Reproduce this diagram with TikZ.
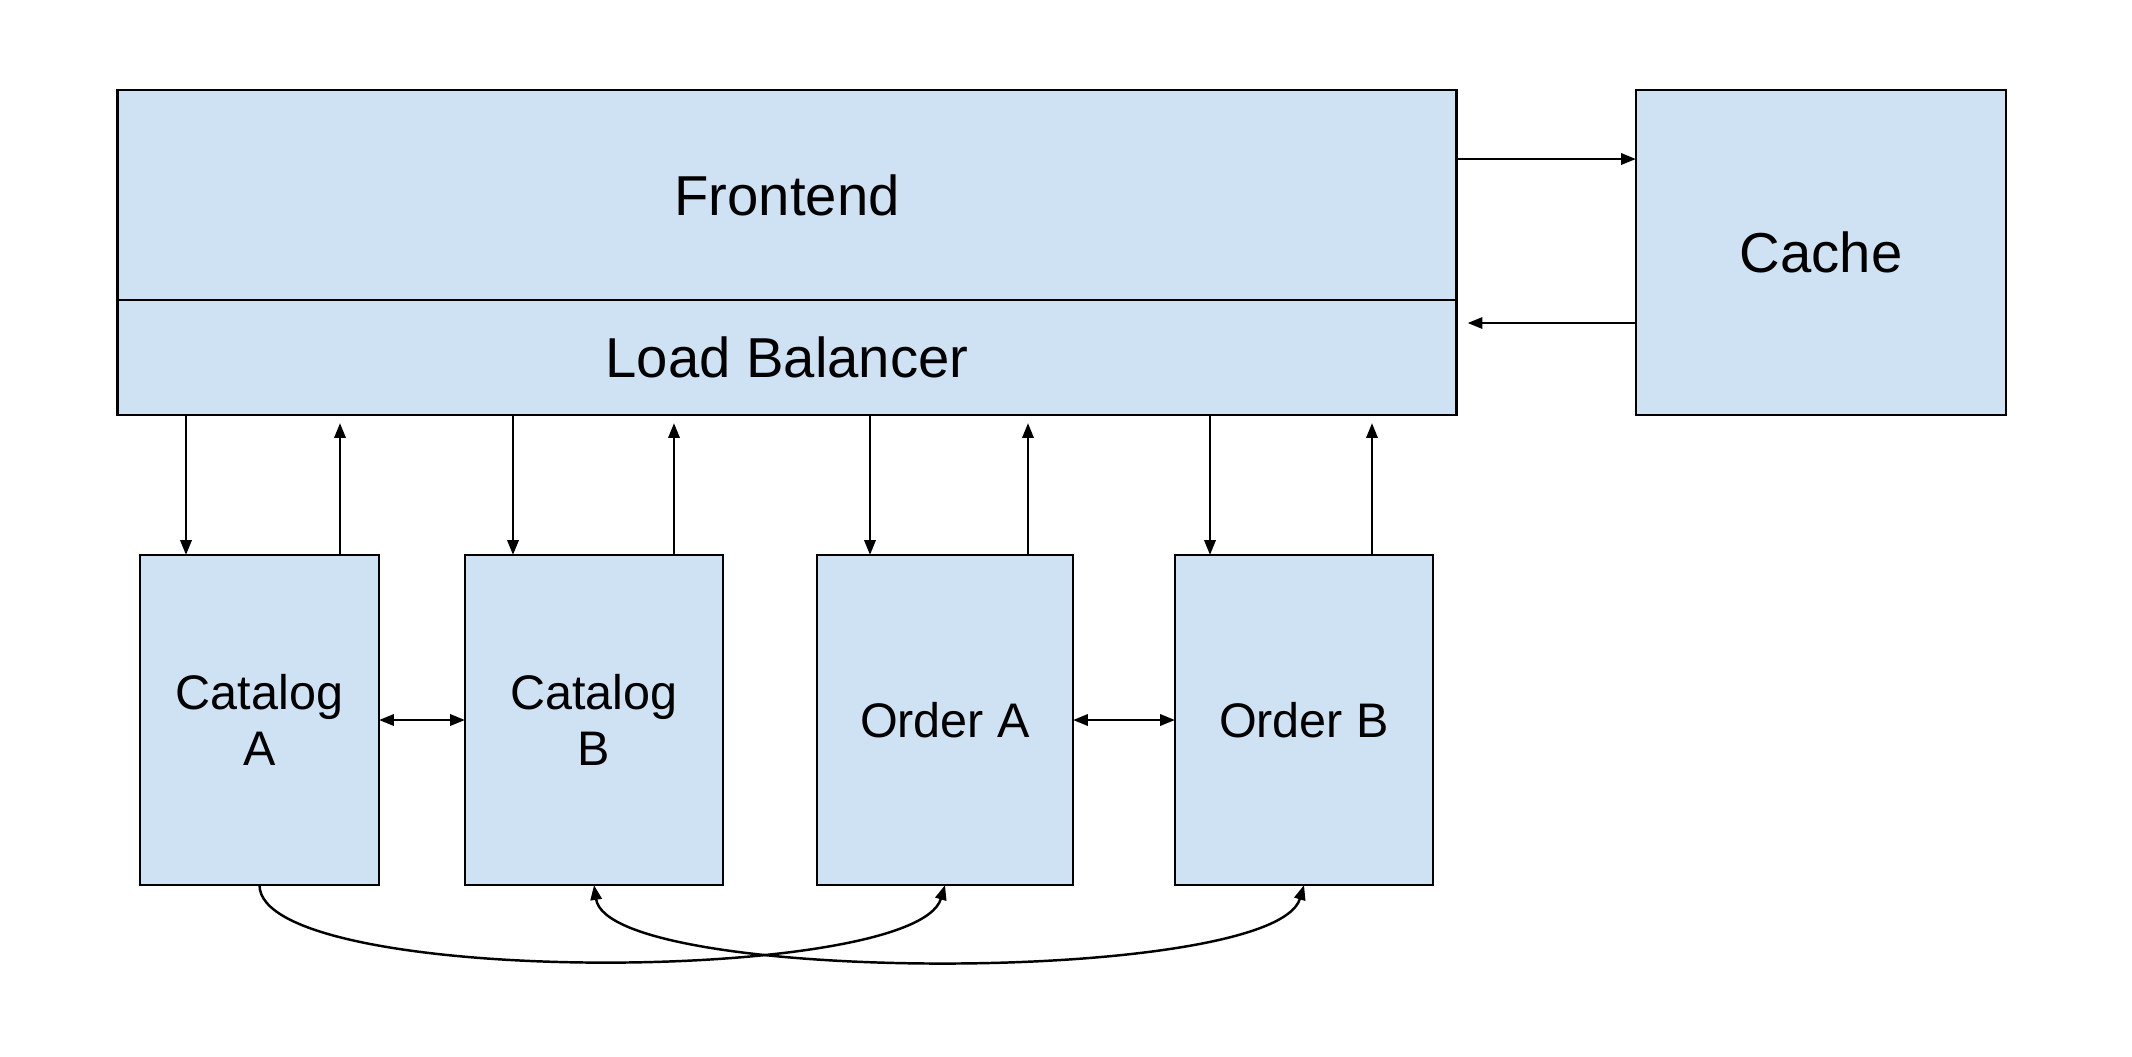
\documentclass[tikz,border=0pt]{standalone}
\usepackage{fontspec}
\setmainfont{Liberation Sans}
\usetikzlibrary{arrows.meta}
\definecolor{boxfill}{HTML}{CFE2F3}
\begin{document}
\begin{tikzpicture}[x=0.01cm,y=-0.01cm,
  box/.style={draw=black,line width=0.7pt,fill=boxfill,rectangle,inner sep=0pt,outer sep=0pt,align=center},
  bigtxt/.style={font=\fontsize{16}{19}\selectfont},
  smalltxt/.style={font=\fontsize{13.8}{16}\selectfont},
  arr/.style={line width=0.7pt,-{Triangle[length=4.2pt,width=3.2pt]}},
  darr/.style={line width=0.7pt,{Triangle[length=4.2pt,width=3.2pt]}-{Triangle[length=4.2pt,width=3.2pt]}}]
\useasboundingbox (0,0) rectangle (2132,1056);
% big boxes
\node[box,bigtxt,minimum width=13.38cm,minimum height=2.10cm] (fe) at (787,195) {Frontend};
\node[box,bigtxt,minimum width=13.38cm,minimum height=1.15cm] (lb) at (787,357.5) {Load Balancer};
\node[box,bigtxt,minimum width=3.70cm,minimum height=3.25cm] (cache) at (1821,252.5) {Cache};
% small boxes
\node[box,smalltxt,minimum width=2.39cm,minimum height=3.30cm] (catA) at (259.5,720) {Catalog\\A};
\node[box,smalltxt,minimum width=2.58cm,minimum height=3.30cm] (catB) at (594,720) {Catalog\\B};
\node[box,smalltxt,minimum width=2.56cm,minimum height=3.30cm] (ordA) at (945,720) {Order A};
\node[box,smalltxt,minimum width=2.58cm,minimum height=3.30cm] (ordB) at (1304,720) {Order B};
% helper coordinates for vertical connectors
\coordinate (d1) at (186,0);
\coordinate (u1) at (340,0);
\coordinate (d2) at (513,0);
\coordinate (u2) at (674,0);
\coordinate (d3) at (870,0);
\coordinate (u3) at (1028,0);
\coordinate (d4) at (1210,0);
\coordinate (u4) at (1372,0);
\coordinate (a1) at (0,159);
\coordinate (a2) at (0,323);
% LB <-> services
\draw[arr] (lb.south -| d1) -- (catA.north -| d1);
\draw[arr,shorten >=2.3pt] (catA.north -| u1) -- (lb.south -| u1);
\draw[arr] (lb.south -| d2) -- (catB.north -| d2);
\draw[arr,shorten >=2.3pt] (catB.north -| u2) -- (lb.south -| u2);
\draw[arr] (lb.south -| d3) -- (ordA.north -| d3);
\draw[arr,shorten >=2.3pt] (ordA.north -| u3) -- (lb.south -| u3);
\draw[arr] (lb.south -| d4) -- (ordB.north -| d4);
\draw[arr,shorten >=2.3pt] (ordB.north -| u4) -- (lb.south -| u4);
% cache
\draw[arr] (fe.east |- a1) -- (cache.west |- a1);
\draw[arr,shorten >=3.2pt] (cache.west |- a2) -- (lb.east |- a2);
% peer links
\draw[darr] (catA.east) -- (catB.west);
\draw[darr] (ordA.east) -- (ordB.west);
% curves
\draw[arr] (catA.south) .. controls +(0,102) and +(-30,100) .. (ordA.south);
\draw[darr] (catB.south) .. controls +(15,100) and +(-30,100) .. (ordB.south);
\end{tikzpicture}
\end{document}
